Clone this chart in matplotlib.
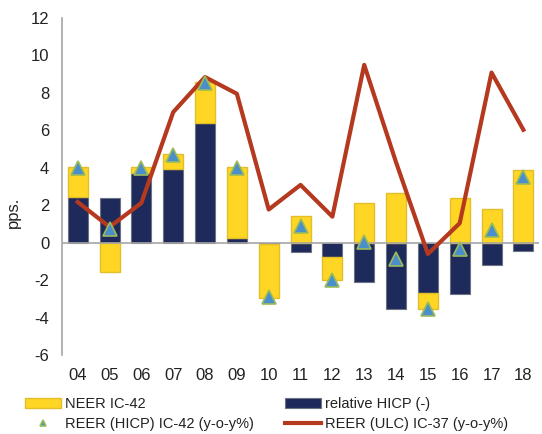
import numpy as np
import matplotlib.pyplot as plt

plt.rcParams['font.family'] = ['Liberation Sans', 'DejaVu Sans']
plt.rcParams['axes.unicode_minus'] = False

years = ["04", "05", "06", "07", "08", "09", "10", "11", "12", "13", "14", "15", "16", "17", "18"]
rel_hicp = [2.42, 2.40, 3.73, 3.93, 6.38, 0.28, -0.05, -0.46, -0.73, -2.08, -3.52, -2.68, -2.70, -1.17, -0.41]
neer = [1.65, -1.53, 0.34, 0.82, 2.22, 3.79, -2.87, 1.44, -1.27, 2.15, 2.68, -0.86, 2.38, 1.83, 3.89]
reer_hicp = [4.0, 0.75, 4.0, 4.7, 8.55, 4.0, -2.9, 0.9, -1.97, 0.07, -0.87, -3.5, -0.34, 0.69, 3.5]
reer_ulc = [2.18, 0.85, 2.13, 6.97, 8.84, 7.95, 1.78, 3.09, 1.4, 9.49, 4.3, -0.59, 1.05, 9.08, 6.03]

yellow = "#FFD624"
navy = "#1F2A5C"
red = "#B5391E"

x = np.arange(len(years))
hicp = np.array(rel_hicp)
ne = np.array(neer)
# NEER stacks on top of relative HICP when signs agree, otherwise starts from zero
base = np.where(np.sign(ne) == np.sign(hicp), hicp, 0.0)

fig = plt.figure(figsize=(5.42, 4.34), dpi=100)
ax = fig.add_axes([0.114, 0.181, 0.881, 0.778])

w = 0.63
b_hicp = ax.bar(x, hicp, w, color=navy, edgecolor="#6B7280", linewidth=0.8, zorder=2)
b_neer = ax.bar(x, ne, w, bottom=base, color=yellow, edgecolor="#E3BE2B", linewidth=1.0, zorder=2)
ax.axhline(0, color="#A6A6A6", linewidth=1.2, zorder=3)
l_ulc, = ax.plot(x, reer_ulc, color=red, linewidth=3, zorder=4)
l_hicp, = ax.plot(x, reer_hicp, linestyle="none", marker="^", markersize=10, markerfacecolor="#4A8FCB",
                  markeredgecolor="#9BBB59", markeredgewidth=1.2, zorder=5)

ax.set_xlim(-0.5, len(years) - 0.5)
ax.set_ylim(-6, 12)
ax.set_yticks(range(-6, 13, 2))
ax.set_xticks(x)
ax.set_xticklabels(years)
ax.tick_params(axis="both", length=0, labelsize=12, colors="#222222")
ax.tick_params(axis="y", pad=9)
ax.tick_params(axis="x", pad=9)
for side in ["top", "right", "bottom"]:
    ax.spines[side].set_visible(False)
ax.spines["left"].set_color("#A6A6A6")
ax.spines["left"].set_linewidth(1.2)
ax.set_ylabel("pps.", fontsize=12, color="#222222")
ax.yaxis.set_label_coords(-0.086, 0.425)

handles = [b_neer, l_hicp, b_hicp, l_ulc]
labels = ["NEER IC-42", "REER (HICP) IC-42 (y-o-y%)", "relative HICP (-)", "REER (ULC) IC-37 (y-o-y%)"]
leg = fig.legend(handles, labels, ncol=2, loc="lower left",
                 bbox_to_anchor=(0.046, 0.006), frameon=False, fontsize=10.5,
                 handlelength=2.5, handletextpad=0.27, columnspacing=2.1, labelspacing=0.45,
                 borderpad=0, borderaxespad=0)
for t in leg.get_texts():
    t.set_color("#222222")
leg.legend_handles[1].set_markersize(5)

plt.savefig("out.png", dpi=100)
